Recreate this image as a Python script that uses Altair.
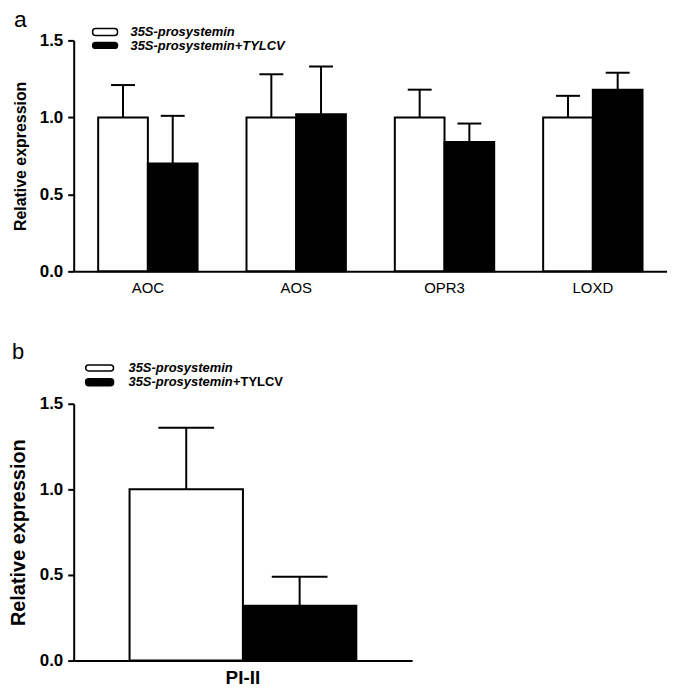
import altair as alt
import pandas as pd

FONT = "Liberation Sans"

series = ["35S-prosystemin", "35S-prosystemin+TYLCV"]
fill_colors = ["white", "black"]
y_ticks = [0.0, 0.5, 1.0, 1.5]

genes_a = ["AOC", "AOS", "OPR3", "LOXD"]
mean_ctrl_a = [1.0, 1.0, 1.0, 1.0]
err_ctrl_a = [0.21, 0.28, 0.18, 0.14]
mean_tylcv_a = [0.70, 1.02, 0.84, 1.18]
err_tylcv_a = [0.31, 0.31, 0.12, 0.11]

genes_b = ["PI-II"]
mean_ctrl_b = [1.0]
err_ctrl_b = [0.36]
mean_tylcv_b = [0.32]
err_tylcv_b = [0.17]


def make_df(genes, m1, e1, m2, e2):
    rows = []
    for g, m, e in zip(genes, m1, e1):
        rows.append({"gene": g, "series": series[0], "mean": m, "upper": m + e})
    for g, m, e in zip(genes, m2, e2):
        rows.append({"gene": g, "series": series[1], "mean": m, "upper": m + e})
    return pd.DataFrame(rows)


legend_df = pd.DataFrame({"label": series})


def panel(df, genes, width, height, cap, title_size, xlabel_size, xlabel_weight,
          xlabel_pad, title_pad, letter, letter_pos, letter_size, leg):
    xaxis = alt.Axis(title=None, labelAngle=0, ticks=False, labelFontSize=xlabel_size,
                     labelFontWeight=xlabel_weight, labelPadding=xlabel_pad,
                     domainWidth=2, domainColor="black", labelColor="black",
                     labelFont=FONT)
    yaxis = alt.Axis(values=y_ticks, format=".1f", title="Relative expression",
                     titleFontSize=title_size, titleFontWeight="bold", titleFont=FONT,
                     titleColor="black", titlePadding=title_pad,
                     labelFontSize=17, labelFontWeight="bold", labelFont=FONT,
                     labelColor="black", labelPadding=5, tickSize=6, tickWidth=2,
                     tickColor="black", domainWidth=2, domainColor="black", grid=False)
    xscale = alt.Scale(paddingInner=0.33, paddingOuter=0.165)
    yscale = alt.Scale(domain=[0, 1.5], nice=False)
    x = alt.X("gene:N", sort=genes, scale=xscale, axis=xaxis)
    xo = alt.XOffset("series:N", sort=series, scale=alt.Scale(paddingInner=0, paddingOuter=0))

    base = alt.Chart(df)
    bars = base.mark_bar(stroke="black", strokeWidth=2).encode(
        x=x, xOffset=xo,
        y=alt.Y("mean:Q", scale=yscale, axis=yaxis),
        fill=alt.Fill("series:N", scale=alt.Scale(domain=series, range=fill_colors), legend=None),
    )
    stems = base.mark_rule(strokeWidth=2, color="black").encode(
        x=x, xOffset=xo,
        y=alt.Y("mean:Q", scale=yscale, axis=yaxis),
        y2="upper:Q",
    )
    caps = base.mark_tick(thickness=2, size=cap, color="black", opacity=1).encode(
        x=x, xOffset=xo,
        y=alt.Y("upper:Q", scale=yscale, axis=yaxis),
    )

    layers = [bars, stems, caps]
    # manual legend
    for i, s in enumerate(series):
        rx1, rx2, ry1, ry2, tx, ty = leg["rows"][i]
        sub = alt.Chart(legend_df).transform_filter(alt.datum.label == s)
        layers.append(sub.mark_rect(fill=fill_colors[i], stroke="black", strokeWidth=1.5,
                                    cornerRadius=3).encode(
            x=alt.value(rx1), x2=alt.value(rx2), y=alt.value(ry1), y2=alt.value(ry2)))
        if leg["split"] and i == 1:
            layers.append(sub.mark_text(align="left", baseline="middle", font=FONT,
                                        fontSize=13, fontWeight="bold", fontStyle="italic",
                                        color="black").encode(
                x=alt.value(tx), y=alt.value(ty), text=alt.value(series[0])))
            layers.append(sub.mark_text(align="left", baseline="middle", font=FONT,
                                        fontSize=13, fontWeight="bold", color="black").encode(
                x=alt.value(tx + leg["split_dx"]), y=alt.value(ty),
                text=alt.value(series[1][len(series[0]):])))
        else:
            layers.append(sub.mark_text(align="left", baseline="middle", font=FONT,
                                        fontSize=13, fontWeight="bold", fontStyle="italic",
                                        color="black").encode(
                x=alt.value(tx), y=alt.value(ty), text="label:N"))
    # panel letter
    layers.append(alt.Chart(legend_df.head(1)).mark_text(
        align="left", baseline="alphabetic", font=FONT, fontSize=letter_size,
        color="black").encode(x=alt.value(letter_pos[0]), y=alt.value(letter_pos[1]),
                              text=alt.value(letter)))
    return alt.layer(*layers).properties(width=width, height=height)


df_a = make_df(genes_a, mean_ctrl_a, err_ctrl_a, mean_tylcv_a, err_tylcv_a)
df_b = make_df(genes_b, mean_ctrl_b, err_ctrl_b, mean_tylcv_b, err_tylcv_b)

panel_a = panel(df_a, genes_a, 596, 232, 24, 16, 15, "normal", 9, 11, "a", (-60, -13), 23,
                {"rows": [(19, 44, -12, -5, 57, -8), (19, 44, 2, 8, 57, 6)], "split": False})
panel_b = panel(df_b, genes_b, 340, 258, 56, 20, 19, "bold", 8, 11, "b", (-62, -45), 22,
                {"rows": [(12, 40, -39, -33, 55, -36), (12, 40, -25, -18, 55, -22)],
                 "split": True, "split_dx": 105})

chart = alt.vconcat(panel_a, panel_b, spacing=46).resolve_scale(
    xOffset="independent", x="independent", y="independent"
).properties(padding=0).configure_view(stroke=None)

chart.save("out.html", embed_options={"renderer": "svg", "actions": False})
